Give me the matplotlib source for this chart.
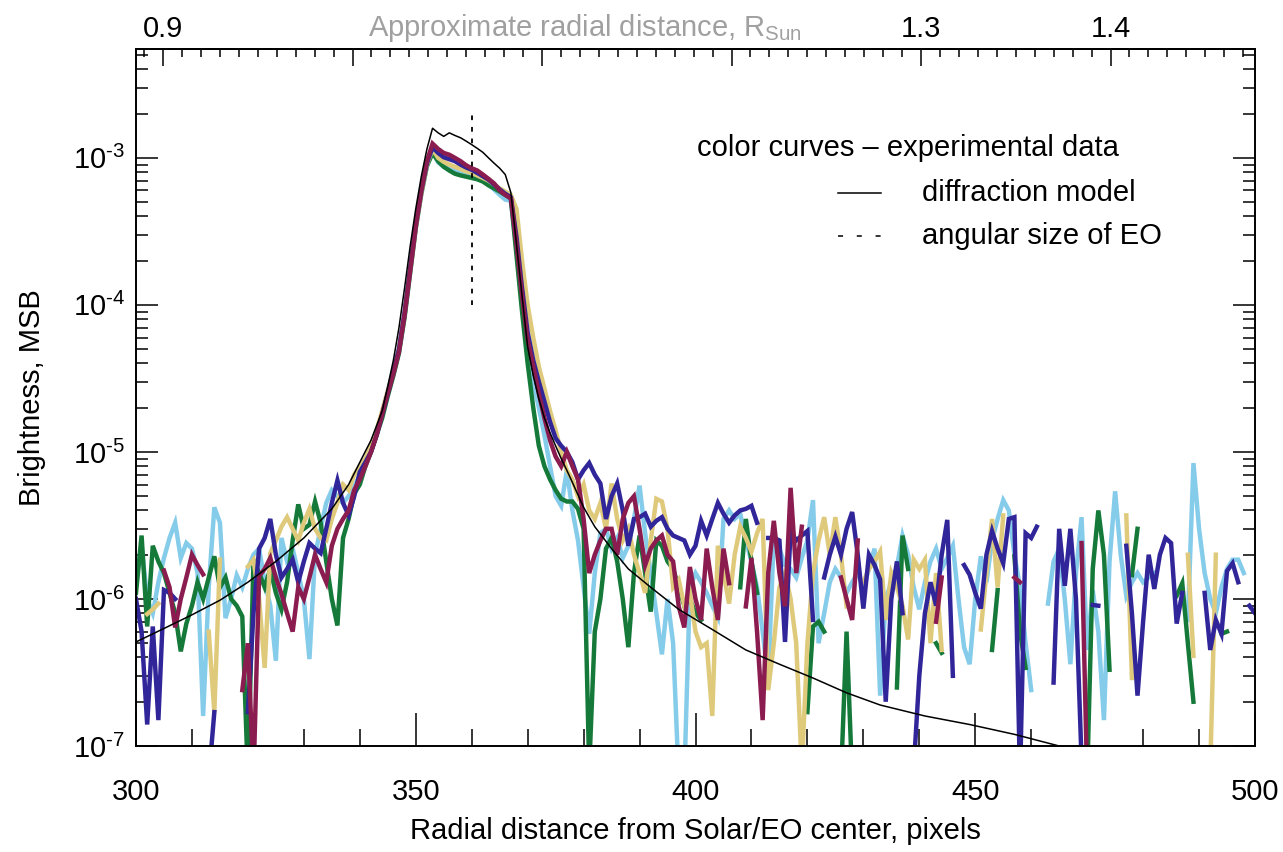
import numpy as np
import matplotlib
matplotlib.use("Agg")
import matplotlib.pyplot as plt
from matplotlib.ticker import LogLocator, NullFormatter, MultipleLocator, FixedLocator, FuncFormatter
from matplotlib.lines import Line2D

nan = np.nan
UNIT = 1e-6  # series values below are in units of 1e-6 MSB

pixels = list(range(300, 501))

green = [
    1.1, 2.7, 0.65, 2.3, 1.8, 1.5, 1.1, 0.8, 0.44, 0.68,
    0.9, 1.3, 1.0, 1.4, 1.95, 1.2, 1.4, 1.0, 0.9, 0.76,
    0.06, 1.85, 1.5, 1.2, 1.6, 1.1, 0.85, 1.3, 2.5, 4.4,
    3.0, 3.2, 4.6, 3.3, 1.8, 1.0, 0.66, 2.6, 3.5, 5.2,
    6, 8, 10, 13, 17, 24, 33, 47, 82, 165,
    330, 570, 880, 1080, 950, 870, 820, 780, 760, 745,
    730, 715, 690, 650, 620, 590, 560, 530, 220, 90,
    40, 20, 11, 8, 6.5, 5.5, 4.8, 4.6, 4.6, 4.1,
    3.0, 0.07, 0.6, 1.0, 2.2, 2.6, 1.8, 1.0, 0.47, 1.5,
    2.7, 1.5, 0.82, 2.5, 2.3, 1.8, 1.6, 1.2, 0.9, 1.0,
    0.8, 0.72, nan, nan, nan, nan, nan, nan, 1.2, 3.5,
    1.8, 1.1, nan, nan, nan, nan, nan, nan, nan, nan,
    0.17, 0.65, 0.7, 0.6, nan, nan, 0.06, 0.6, 0.06, nan,
    nan, nan, nan, nan, nan, nan, 0.25, 2.7, 1.6, nan,
    nan, nan, nan, 0.5, 0.43, nan, nan, nan, nan, nan,
    nan, nan, nan, 0.45, 1.15, nan, nan, 1.95, 0.6, 0.34,
    nan, nan, nan, nan, nan, nan, nan, nan, nan, nan,
    0.06, 1.6, 4.0, 2.0, 0.33, nan, nan, nan, 1.45, 3.0,
    nan, nan, nan, nan, nan, nan, 1.05, 1.28, 0.5, 0.2,
    nan, nan, nan, nan, 0.58, 0.6, nan, nan, nan, nan,
    nan,
]

light_blue = [
    1.3, 2.3, 1.0, 0.8, 1.3, 1.9, 2.6, 3.3, 1.9, 2.4,
    2.2, 1.5, 0.16, 1.2, 4.2, 3.3, 0.74, 1.0, 1.45, 1.2,
    1.6, 2.0, 2.2, 1.3, 0.9, 0.38, 2.6, 1.8, 2.2, 1.5,
    1.0, 0.39, 2.0, 3.0, 4.5, 5.5, 5.0, 4.5, 5.0, 5.8,
    7, 8.5, 10.5, 13.5, 18.5, 26, 36, 50, 88, 175,
    345, 590, 900, 1100, 930, 870, 840, 810, 790, 770,
    750, 730, 700, 660, 610, 560, 520, 510, 240, 100,
    48, 30, 20, 13, 8, 5, 4.3, 7.5, 4.0, 2.5,
    1.2, 0.58, 1.5, 2.8, 3.0, 2.2, 2.6, 1.9, 2.3, 3.5,
    5.9, 2.8, 1.5, 0.8, 0.42, 1.0, 0.5, 0.06, 0.06, 1.2,
    1.5, 1.3, 1.1, 0.9, 0.75, 3.5, 4.0, 3.5, 3.8, 2.5,
    1.8, 1.2, 0.6, 0.28, 2.7, 2.2, 1.7, 1.6, 1.4, 1.9,
    2.5, 4.7, 0.5, 0.8, 1.3, 1.6, 1.4, 1.1, 1.3, 1.5,
    1.2, 1.6, 2.2, 0.22, 1.0, 1.3, 1.65, 2.7, 2.0, 1.2,
    0.85, 1.3, 1.8, 2.2, 1.6, 1.9, 2.3, 1.0, 0.47, 0.36,
    1.0, 1.95, 1.3, 2.5, 3.5, 4.7, 4.0, 2.0, 1.2, 0.5,
    0.24, nan, nan, 0.93, 1.8, 2.2, 1.0, 0.36, 1.5, 3.6,
    0.45, 1.15, 0.6, 0.15, 1.8, 5.4, 2.0, 1.05, 1.3, 1.5,
    1.3, 1.4, 1.5, nan, nan, nan, nan, nan, 0.72, 8.4,
    3.0, 1.5, 1.0, 0.8, 1.2, 1.6, 1.85, 1.85, 1.5, nan,
    nan,
]

yellow = [
    nan, nan, 0.79, 0.85, 0.93, nan, nan, nan, nan, nan,
    nan, nan, nan, 0.6, 0.17, 1.85, nan, nan, nan, nan,
    1.66, 1.85, 1.0, 0.34, 2.05, 2.5, 3.1, 3.6, 3.0, 2.5,
    3.3, 4.1, 3.0, 2.6, 2.5, 3.5, 4.5, 6.0, 5.5, 7.0,
    8, 9, 11, 14, 19, 26, 35, 50, 88, 170,
    340, 580, 900, 1150, 1000, 940, 900, 870, 840, 810,
    790, 760, 730, 700, 660, 620, 590, 560, 450, 200,
    100, 60, 38, 27, 19, 14, 10, 7.5, 6.5, 5.0,
    6.0, 4.0, 3.5, 4.5, 3.0, 6.1, 3.5, 2.5, 3.0, 2.0,
    1.5, 1.1, 2.5, 4.8, 4.6, 3.0, 1.2, 1.35, 0.9, 1.1,
    0.6, 0.47, 0.5, 0.16, 2.3, 1.5, 0.93, 2.0, 3.1, 2.6,
    2.1, 2.8, 3.5, 0.24, 0.5, 1.2, 1.5, 1.0, 0.5, 0.07,
    0.5, 1.5, 2.5, 3.6, 2.0, 3.6, 2.0, 0.89, nan, nan,
    1.3, 1.6, 1.8, 2.1, 0.72, 1.5, 1.2, 0.9, 0.53, 1.85,
    1.6, 1.85, 0.5, 1.5, 0.45, nan, nan, nan, nan, nan,
    nan, 0.62, 1.5, 3.5, 1.2, 3.7, nan, nan, nan, nan,
    nan, nan, nan, nan, nan, nan, nan, nan, nan, nan,
    nan, nan, nan, nan, nan, nan, nan, 3.7, 0.29, nan,
    nan, nan, nan, nan, nan, nan, nan, nan, 2.0, 0.41,
    nan, nan, 0.07, 2.0, nan, nan, nan, nan, nan, nan,
    nan,
]

maroon = [
    nan, nan, nan, nan, nan, 1.56, 1.2, 0.64, 1.0, 1.4,
    2.0, 1.7, 1.47, nan, nan, nan, nan, nan, nan, 0.24,
    0.5, 0.06, 1.43, 1.6, 1.9, 1.4, 1.08, 0.8, 0.6, 1.2,
    1.0, 1.4, 2.0, 1.6, 1.3, 2.3, 3.0, 3.5, 4.0, 5.5,
    6.5, 8, 10, 13, 18, 25, 34, 48, 85, 170,
    340, 600, 950, 1250, 1150, 1080, 1050, 1000, 950, 890,
    850, 820, 770, 720, 670, 600, 560, 530, 260, 115,
    58, 38, 25, 17, 12, 9.3, 8, 10, 8.0, 6.5,
    3.5, 1.5, 2.0, 2.5, 3.0, 3.0, 2.0, 3.5, 4.5, 5.0,
    3.0, 1.7, 2.2, 2.5, 2.7, 2.0, 1.8, 0.89, 0.64, 1.65,
    1.0, 0.72, 2.2, 1.2, 0.72, 2.2, 1.28, nan, nan, 0.89,
    1.9, 0.6, 0.15, 1.5, 3.4, 1.5, 0.89, 5.7, 1.5, 3.1,
    nan, nan, nan, nan, nan, nan, 1.4, 1.0, 0.72, 2.5,
    nan, nan, nan, nan, nan, nan, nan, nan, nan, nan,
    nan, nan, nan, 0.70, 1.4, nan, nan, nan, nan, nan,
    nan, nan, nan, nan, nan, nan, nan, 1.4, 1.3, nan,
    nan, nan, nan, nan, nan, nan, nan, nan, nan, 2.4,
    0.06, nan, nan, nan, nan, nan, nan, nan, nan, nan,
    nan, nan, nan, nan, nan, nan, nan, nan, nan, nan,
    nan, nan, nan, nan, nan, nan, nan, nan, nan, nan,
    nan,
]

dark_blue = [
    1.0, 0.6, 0.14, 0.65, 0.15, 1.15, 1.1, 1.0, nan, nan,
    nan, nan, nan, 0.06, 0.17, nan, nan, nan, nan, nan,
    0.17, 0.8, 2.2, 2.6, 3.5, 2.0, 1.4, 1.6, 1.85, 1.3,
    1.8, 2.4, 2.2, 2.05, 3.0, 4.5, 6.4, 4.5, 3.7, 5.0,
    7.3, 8.5, 10, 13, 18, 25, 35, 50, 88, 175,
    350, 600, 920, 1180, 1080, 1010, 980, 950, 900, 860,
    830, 790, 750, 710, 660, 610, 570, 540, 290, 130,
    65, 42, 30, 22, 16, 12.4, 11, 10, 8.5, 6.5,
    7.5, 8.4, 7.0, 6.1, 3.5, 5.0, 6.1, 4.0, 2.3, 3.5,
    3.6, 3.8, 3.1, 3.4, 3.6, 3.0, 2.7, 2.6, 2.5, 2.0,
    2.3, 3.4, 2.7, 3.5, 4.5, 3.8, 3.3, 3.7, 4.0, 4.1,
    4.3, 3.3, nan, 2.6, 2.6, 2.5, 0.51, 2.9, 2.5, 2.7,
    2.9, 0.72, nan, 1.4, 2.0, 2.65, 2.0, 3.0, 3.9, 2.0,
    0.86, 2.0, 1.7, 1.36, 0.2, 1.0, 1.8, 0.8, nan, 0.07,
    0.3, 0.8, 1.3, 0.9, 2.0, 3.45, 0.3, nan, 1.7, 1.46,
    1.1, 0.86, 2.0, 2.9, 2.2, 1.75, 3.5, 3.6, 0.06, 2.8,
    2.6, 3.1, nan, nan, 0.27, 3.0, 1.23, 3.0, 1.0, 0.08,
    nan, 0.91, 0.9, nan, nan, nan, nan, 2.3, 0.8, 0.22,
    0.7, 2.0, 1.17, 2.0, 2.6, 2.4, 0.68, 1.1, nan, nan,
    nan, 1.1, 0.45, 0.72, 0.58, 1.55, 1.75, 1.3, nan, 0.9,
    0.8,
]

model_pixels = [300, 305, 310, 315, 320, 325, 330, 335, 338, 340, 342, 344,
                345, 346, 347, 348, 349, 350, 351, 352, 353, 354, 355, 356,
                357, 358, 359, 360, 361, 362, 363, 364, 365, 366, 367, 368,
                369, 370, 371, 372, 373, 374, 375, 376, 377, 378, 380, 382,
                385, 388, 392, 397, 403, 409, 415, 421, 427, 433, 441, 449,
                457, 465, 470]
model_brightness = [0.51, 0.63, 0.78, 0.98, 1.3, 1.8, 2.6, 4.1, 6.0, 8.5, 12, 19,
                    28, 42, 70, 130, 250, 450, 750, 1150, 1590, 1480, 1400, 1480,
                    1420, 1370, 1300, 1230, 1160, 1090, 1000, 920, 850, 770, 580, 260,
                    115, 52, 33, 23, 17, 13.5, 11, 9, 7.5, 6.2, 4.2, 3.1,
                    2.2, 1.6, 1.2, 0.85, 0.62, 0.45, 0.36, 0.29, 0.23, 0.19, 0.16, 0.14,
                    0.12, 0.10, 0.09]

eo_pixel = 360
eo_range = [1.0e-4, 2.0e-3]
px_per_rsun = 338.7

series = [
    ("light blue", light_blue, "#85cbea"),
    ("green", green, "#157a39"),
    ("yellow", yellow, "#dfca7c"),
    ("dark blue", dark_blue, "#31259a"),
    ("maroon", maroon, "#8a1c50"),
]

plt.rcParams["font.family"] = ["Liberation Sans", "DejaVu Sans"]
plt.rcParams["mathtext.fontset"] = "custom"
plt.rcParams["mathtext.rm"] = "Liberation Sans"
plt.rcParams["mathtext.it"] = "Liberation Sans:italic"
plt.rcParams["mathtext.default"] = "regular"

W, H = 1283, 852
fig = plt.figure(figsize=(W / 100, H / 100), dpi=100)
ax = fig.add_axes([136 / W, 1 - 746 / H, 1119 / W, 697 / H])

x = np.array(pixels, dtype=float)
for name, vals, col in series:
    ax.plot(x, np.array(vals, dtype=float) * UNIT, color=col, lw=3.2,
            solid_joinstyle="miter", zorder=2)

ax.plot(model_pixels, np.array(model_brightness) * UNIT, color="black", lw=1.1, zorder=3)
ax.plot([eo_pixel, eo_pixel], eo_range, color="black", lw=1.3,
        linestyle=(0, (2.6, 3.8)), zorder=3)

ax.set_xlim(300, 500)
ax.set_yscale("log")
ax.set_ylim(1e-7, 5.5e-3)


def decade_label(v, pos):
    e = int(round(np.log10(v)))
    sign = r"\text{-}" if e < 0 else ""
    return r"$10^{%s%d}$" % (sign, abs(e))


fs = 21
ax.xaxis.set_major_locator(MultipleLocator(50))
ax.xaxis.set_minor_locator(MultipleLocator(10))
ax.tick_params(axis="x", which="major", direction="in", length=24, width=1.1,
               top=False, labelsize=fs, pad=23)
ax.tick_params(axis="x", which="minor", direction="in", length=12, width=1.1, top=False)
ax.yaxis.set_major_locator(LogLocator(base=10, numticks=20))
ax.yaxis.set_major_formatter(FuncFormatter(decade_label))
ax.yaxis.set_minor_locator(LogLocator(base=10, subs=np.arange(2, 10), numticks=20))
ax.yaxis.set_minor_formatter(NullFormatter())
ax.tick_params(axis="y", which="major", direction="in", length=16, width=1.1,
               left=True, right=True, labelsize=fs, pad=8)
ax.tick_params(axis="y", which="minor", direction="in", length=8.5, width=1.1,
               left=True, right=True)
for s in ax.spines.values():
    s.set_linewidth(1.4)

sec = ax.secondary_xaxis("top", functions=(lambda p: p / px_per_rsun,
                                           lambda r: r * px_per_rsun))
sec.xaxis.set_major_locator(FixedLocator([0.9, 1.0, 1.1, 1.2, 1.3, 1.4]))
sec.set_xticklabels(["0.9", "", "", "", "1.3", "1.4"])
sec.xaxis.set_minor_locator(MultipleLocator(0.01))
sec.tick_params(axis="x", which="major", direction="in", length=12, width=1.1,
                labelsize=fs, pad=4)
sec.tick_params(axis="x", which="minor", direction="in", length=6, width=1.1)
sec.spines["top"].set_linewidth(1.4)

fig.text(585 / W, 1 - 28 / H, "Approximate radial distance, R$_{Sun}$",
         color="#a0a0a0", fontsize=fs, ha="center", va="center")

ax.set_xlabel("Radial distance from Solar/EO center, pixels", fontsize=fs)
ax.xaxis.set_label_coords(0.5, -(831 - 746) / 697)
ax.xaxis.label.set_va("center")
ax.set_ylabel("Brightness, MSB", fontsize=fs)
ax.yaxis.set_label_coords(-(136 - 46) / 1119, 0.5)

ax.text(0.501, 0.858, "color curves \u2013 experimental data", transform=ax.transAxes,
        fontsize=fs, ha="left", va="center")
ax.add_line(Line2D([0.627, 0.666], [0.793, 0.793], transform=ax.transAxes,
                   color="black", lw=1.1))
ax.text(0.702, 0.793, "diffraction model", transform=ax.transAxes,
        fontsize=fs, ha="left", va="center")
ax.add_line(Line2D([0.627, 0.666], [0.732, 0.732], transform=ax.transAxes,
                   color="black", lw=1.1, linestyle=(0, (3.3, 9))))
ax.text(0.702, 0.732, "angular size of EO", transform=ax.transAxes,
        fontsize=fs, ha="left", va="center")

fig.savefig("out.png", dpi=100)
